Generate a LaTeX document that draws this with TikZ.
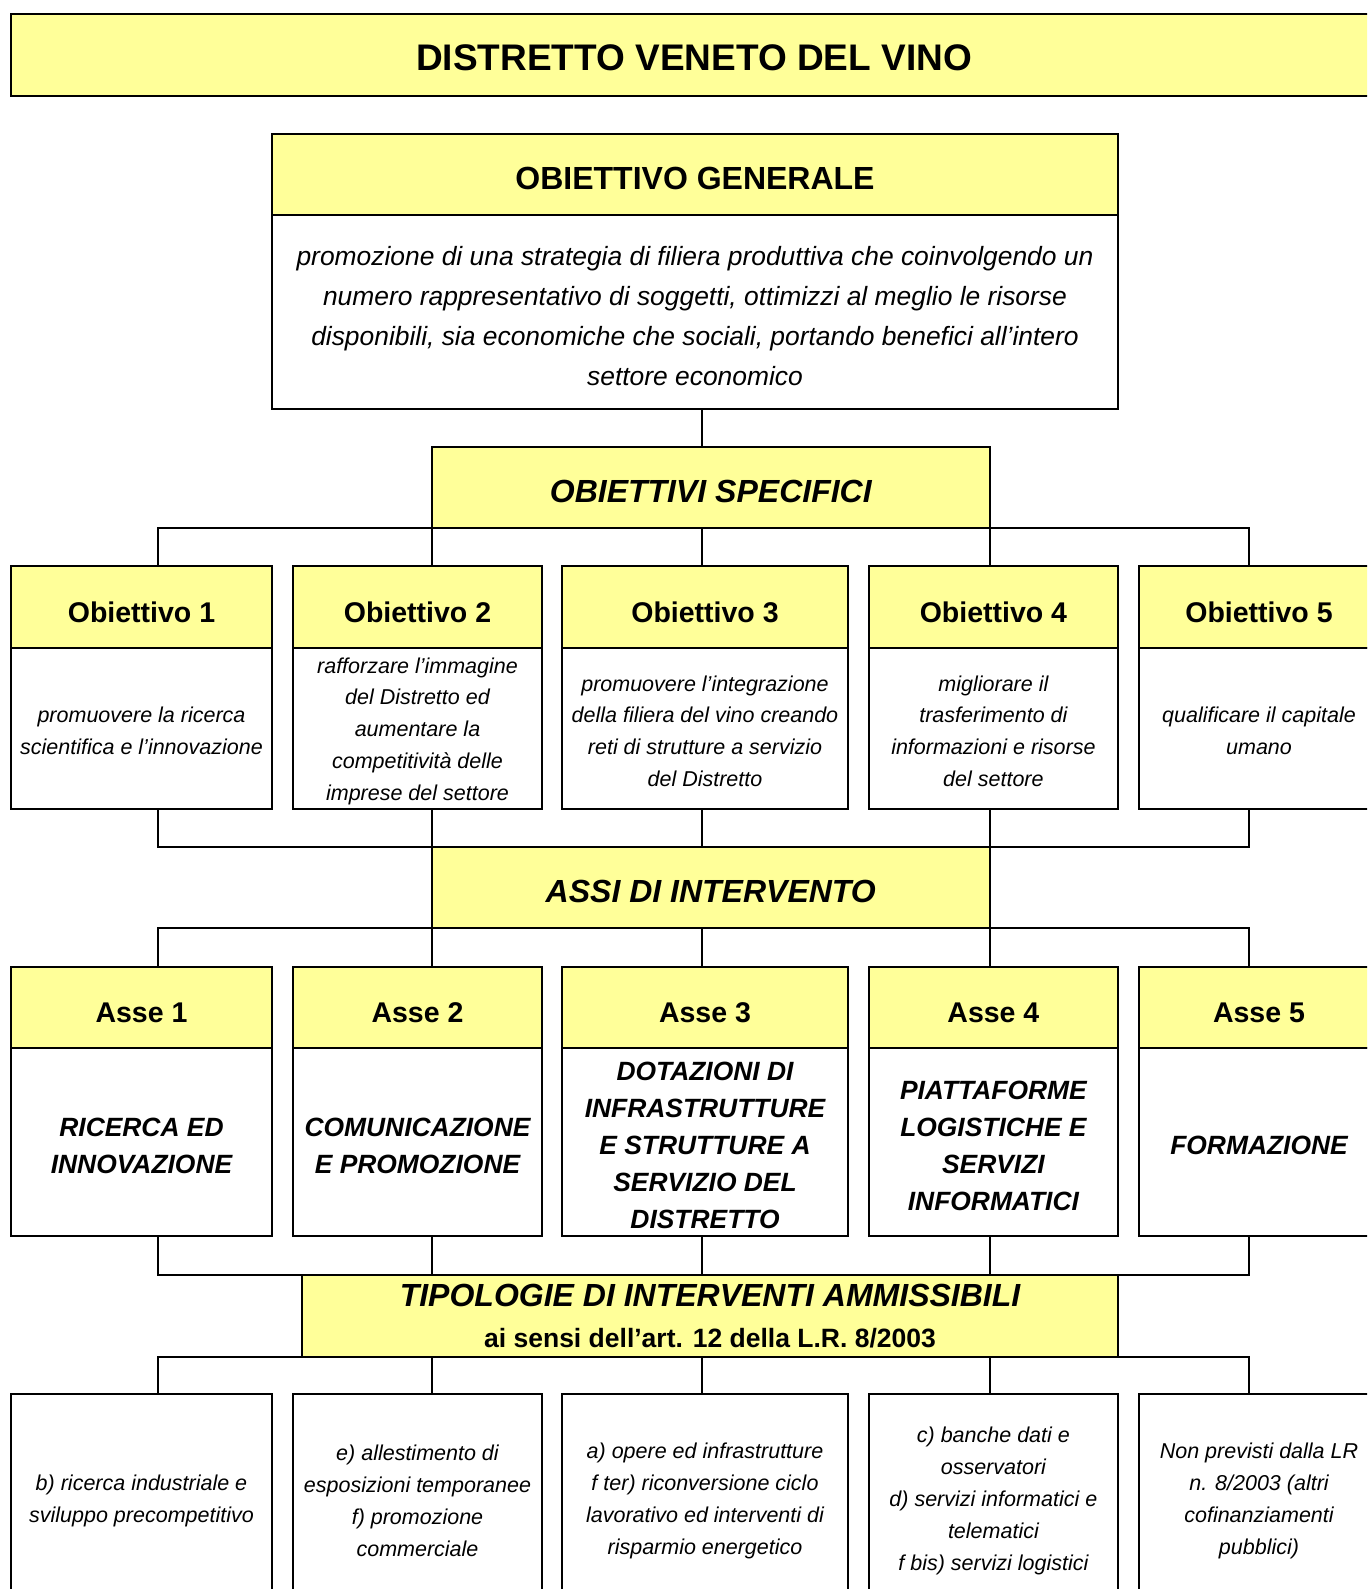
\documentclass[tikz,border=0pt]{standalone}
\usepackage{fontspec}
\setmainfont{Liberation Sans}
\usetikzlibrary{positioning}
\definecolor{PaleYellow}{RGB}{255,255,153}

\newcommand{\fsz}[2]{\fontsize{#1}{#2}\selectfont}
\newcommand{\topfix}{\rule{0pt}{1em}}

\begin{document}
\begin{tikzpicture}[
    x=1pt,
    y=-1pt,
    head/.style={
        draw,
        line width=2pt,
        outer sep=0pt,
        inner sep=0pt,
        fill=PaleYellow,
        align=center,
        minimum height=81pt
    },
    bighead/.style={
        head,
        text height=30pt,
        text depth=0pt,
        font=\fsz{32}{38}\bfseries
    },
    colhead/.style={
        head,
        minimum height=82pt,
        text height=30.8pt,
        text depth=0pt,
        font=\fsz{28.5}{34}\bfseries
    },
    body/.style={
        draw,
        line width=2pt,
        outer sep=0pt,
        inner sep=0pt,
        fill=white,
        align=center
    },
    objbody/.style={
        body,
        minimum height=161pt,
        font=\fsz{21.5}{31.8}\itshape
    },
    assebody/.style={
        body,
        minimum height=187.7pt,
        font=\fsz{26.4}{37}\bfseries\itshape
    },
    intbody/.style={
        body,
        minimum height=208.6pt,
        font=\fsz{21.5}{31.9}\itshape
    },
    link/.style={
        line width=1.8pt
    }
]

\useasboundingbox (0,0) rectangle (1367,1589);
\clip (0,0) rectangle (1367,1589);

% column positions of the connectors
\coordinate (k1) at (157.6,0);
\coordinate (k2) at (431.8,0);
\coordinate (k3) at (701.7,0);
\coordinate (k4) at (989.7,0);
\coordinate (k5) at (1248.8,0);

\node[head, minimum width=1366pt, minimum height=82pt, text height=31pt, text depth=0pt,
    font=\fsz{37}{44}\bfseries] (title) at (694,55) {DISTRETTO VENETO DEL VINO};

% obiettivo generale
\node[bighead, minimum width=846pt, text height=29.4pt] (og) at (695,174.5) {OBIETTIVO GENERALE};
\node[body, minimum width=846pt, minimum height=194pt, font=\fsz{26.4}{40}\itshape,
    below=0pt of og] (ogtext)
{\topfix promozione di una strategia di filiera produttiva che coinvolgendo un\\
numero rappresentativo di soggetti, ottimizzi al meglio le risorse\\
disponibili, sia economiche che sociali, portando benefici all’intero\\
settore economico};

\node[bighead, minimum width=557.8pt, font=\fsz{32}{38}\bfseries\itshape]
    (os) at (710.8,487.2) {OBIETTIVI SPECIFICI};

% obiettivi
\node[colhead, minimum width=261pt] (ob1) at (141.5,606.7) {Obiettivo 1};
\node[colhead, minimum width=249pt] (ob2) at (417.5,606.7) {Obiettivo 2};
\node[colhead, minimum width=285.8pt] (ob3) at (705,606.7) {Obiettivo 3};
\node[colhead, minimum width=249pt] (ob4) at (993.4,606.7) {Obiettivo 4};
\node[colhead, minimum width=240pt] (ob5) at (1259,606.7) {Obiettivo 5};

\node[objbody, minimum width=261pt, below=0pt of ob1] (ob1t)
{\topfix promuovere la ricerca\\scientifica e l’innovazione};
\node[objbody, minimum width=249pt, below=0pt of ob2] (ob2t)
{\topfix rafforzare l’immagine\\del Distretto ed\\aumentare la\\competitività delle\\imprese del settore};
\node[objbody, minimum width=285.8pt, below=0pt of ob3] (ob3t)
{\topfix promuovere l’integrazione\\della filiera del vino creando\\reti di strutture a servizio\\del Distretto};
\node[objbody, minimum width=249pt, below=0pt of ob4] (ob4t)
{\topfix migliorare il\\trasferimento di\\informazioni e risorse\\del settore};
\node[objbody, minimum width=240pt, below=0pt of ob5] (ob5t)
{\topfix qualificare il capitale\\umano};

\node[bighead, minimum width=557.8pt, font=\fsz{32}{38}\bfseries\itshape]
    (ai) at (710.8,887.6) {ASSI DI INTERVENTO};

% assi
\node[colhead, minimum height=81pt, minimum width=261pt] (as1) at (141.5,1007.5) {Asse 1};
\node[colhead, minimum height=81pt, minimum width=249pt] (as2) at (417.5,1007.5) {Asse 2};
\node[colhead, minimum height=81pt, minimum width=285.8pt] (as3) at (705,1007.5) {Asse 3};
\node[colhead, minimum height=81pt, minimum width=249pt] (as4) at (993.4,1007.5) {Asse 4};
\node[colhead, minimum height=81pt, minimum width=240pt] (as5) at (1259,1007.5) {Asse 5};

\node[assebody, minimum width=261pt, below=0pt of as1] (as1t)
{\topfix RICERCA ED\\INNOVAZIONE};
\node[assebody, minimum width=249pt, below=0pt of as2] (as2t)
{\topfix COMUNICAZIONE\\E PROMOZIONE};
\node[assebody, minimum width=285.8pt, below=0pt of as3] (as3t)
{\topfix DOTAZIONI DI\\INFRASTRUTTURE\\E STRUTTURE A\\SERVIZIO DEL\\DISTRETTO};
\node[assebody, minimum width=249pt, below=0pt of as4] (as4t)
{\topfix PIATTAFORME\\LOGISTICHE E\\SERVIZI\\INFORMATICI};
\node[assebody, minimum width=240pt, below=0pt of as5] (as5t)
{\topfix FORMAZIONE};

\node[head, minimum width=816pt, minimum height=81.7pt, font=\fsz{32}{41.5}\bfseries]
    (tipo) at (710,1316)
{\itshape TIPOLOGIE DI INTERVENTI AMMISSIBILI\\
\fsz{26.5}{41.5}\upshape ai sensi dell’art. 12 della L.R. 8/2003};

% tipologie
\node[intbody, minimum width=261pt] (int1) at (141.5,1498)
{\topfix b) ricerca industriale e\\sviluppo precompetitivo};
\node[intbody, minimum width=249pt] (int2) at (417.5,1498)
{\topfix e) allestimento di\\esposizioni temporanee\\f) promozione\\commerciale};
\node[intbody, minimum width=285.8pt] (int3) at (705,1498)
{\topfix a) opere ed infrastrutture\\f ter) riconversione ciclo\\lavorativo ed interventi di\\risparmio energetico};
\node[intbody, minimum width=249pt] (int4) at (993.4,1498)
{\topfix c) banche dati e\\osservatori\\d) servizi informatici e\\telematici\\f bis) servizi logistici};
\node[intbody, minimum width=240pt] (int5) at (1259,1498)
{\topfix Non previsti dalla LR\\n. 8/2003 (altri\\cofinanziamenti\\pubblici)};

% connectors
\draw[link] (ogtext.south -| k3) -- (os.north -| k3);

\draw[link] (k1 |- ob1.north) |- (k5 |- os.south) -- (k5 |- ob5.north);
\draw[link] (k1 |- ob1t.south) |- (k5 |- ai.north) -- (k5 |- ob5t.south);
\draw[link] (k1 |- as1.north) |- (k5 |- ai.south) -- (k5 |- as5.north);
\draw[link] (k1 |- as1t.south) |- (k5 |- tipo.north) -- (k5 |- as5t.south);
\draw[link] (k1 |- int1.north) |- (k5 |- tipo.south) -- (k5 |- int5.north);

\foreach \i in {2,3,4} {
    \draw[link] (k\i |- os.south) -- (k\i |- ob\i.north);
    \draw[link] (k\i |- ob\i t.south) -- (k\i |- ai.north);
    \draw[link] (k\i |- ai.south) -- (k\i |- as\i.north);
    \draw[link] (k\i |- as\i t.south) -- (k\i |- tipo.north);
    \draw[link] (k\i |- tipo.south) -- (k\i |- int\i.north);
}

\end{tikzpicture}
\end{document}
